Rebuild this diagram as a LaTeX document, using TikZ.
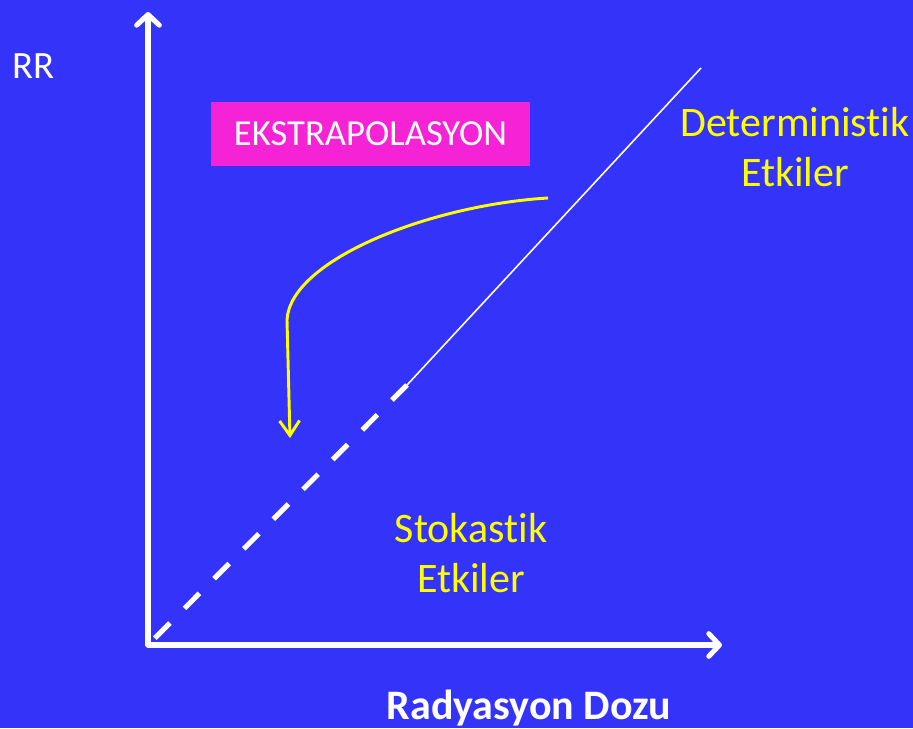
\documentclass[tikz,border=0pt]{standalone}
\usepackage{fontspec}
\setmainfont{Carlito}[Ligatures=NoCommon]
\usetikzlibrary{arrows.meta}
\definecolor{bgblue}{RGB}{51,51,250}
\definecolor{boxmag}{RGB}{246,34,214}
\definecolor{ylw}{RGB}{255,255,0}
\begin{document}
\begin{tikzpicture}[x=0.75pt,y=-0.75pt,
  axis/.style={draw=white,line width=3.8pt,line cap=round,-{Straight Barb[length=8pt,width=17pt,round]}},
  ylabel/.style={text=ylw,font=\fontsize{31.5}{38}\selectfont,align=center},
  wlabel/.style={text=white,font=\fontsize{29}{34}\selectfont}]
\fill[bgblue] (0,0) rectangle (913,728);
\useasboundingbox (0,0) rectangle (913,728);
\coordinate (O) at (148,645);
\coordinate (Ytop) at (148,12);
\coordinate (Xend) at (722,645);
\coordinate (D) at (407,385);
\coordinate (E) at (701,68);
\coordinate (CS) at (548,198);
\coordinate (CM) at (287,320);
\coordinate (CT) at (290,438);
% extrapolation dashed
\draw[white,line width=3.8pt,dash pattern=on 16pt off 15.5pt] (D) -- (O);
\draw[white,line width=1.2pt] (D) -- (E);
% axes
\draw[axis] (O) -- (Ytop);
\draw[axis] (O) -- (Xend);
% curved arrow
\draw[ylw,line width=2.2pt,-{Straight Barb[length=11pt,width=15pt]}] (CS) .. controls (430,205) and (290,260) .. (CM) -- (CT);
% box
\node[fill=boxmag,minimum width=239.25pt,minimum height=48pt,inner sep=0pt,
  text=white,font=\fontsize{27.5}{32}\selectfont] (box) at (370.5,134) {EKSTRAPOLASYON};
\node[wlabel,anchor=center] (rr) at (33,66) {RR};
\node[ylabel] (det) at (795,147) {Deterministik\\Etkiler};
\node[ylabel] (sto) at (471,553) {Stokastik\\Etkiler};
\node[text=white,font=\bfseries\fontsize{31.5}{36}\selectfont] (xl) at (529,708) {Radyasyon Dozu};
\end{tikzpicture}
\end{document}
